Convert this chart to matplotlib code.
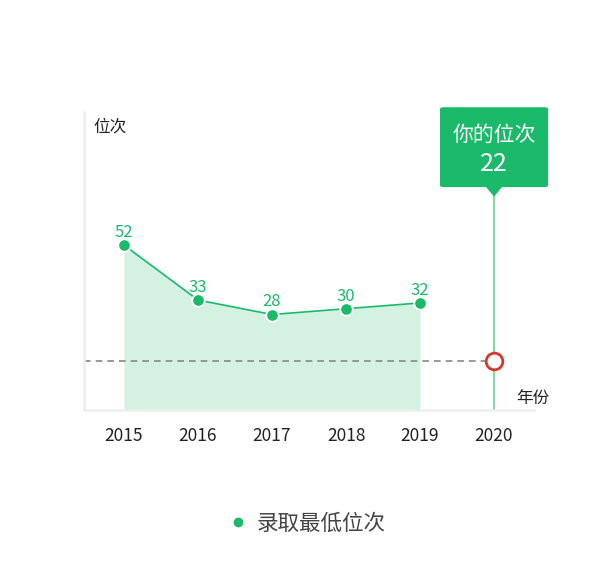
import matplotlib
matplotlib.use("Agg")
import matplotlib.pyplot as plt
import matplotlib.transforms as mtransforms
from matplotlib.patches import FancyBboxPatch, Polygon
from matplotlib.lines import Line2D
import numpy as np

plt.rcParams['font.family'] = ['Noto Sans CJK SC', 'DejaVu Sans']

# data
years = ['2015', '2016', '2017', '2018', '2019', '2020']
min_rank = [52, 33, 28, 30, 32]        # 录取最低位次, 2015-2019
your_rank = 22                          # shown in the tooltip
your_rank_level = 12                    # height of the red marker as drawn

GREEN = '#1aba6a'
FILL = '#d3f2e1'
VLINE = '#8ad8a8'
RED = '#d9372b'
AXIS = '#eeeeee'

fig = plt.figure(figsize=(6.15, 5.62), dpi=100)
ax = fig.add_axes([0.1366, 0.2705, 0.7317, 0.5302])

x = np.arange(len(years))
xs = x[:len(min_rank)]
ymin, ymax = -5, 98

ax.fill_between(xs, min_rank, ymin, color=FILL, lw=0, zorder=1)
ax.plot(xs, min_rank, color=GREEN, lw=1.2, zorder=3)
ax.plot(xs, min_rank, 'o', color=GREEN, ms=9, mec='white', mew=1.3, zorder=4)
for xi, v in zip(xs, min_rank):
    ax.annotate(str(v), (xi, v), xytext=(0, 3), textcoords='offset points',
                ha='center', va='bottom', color=GREEN, fontsize=12, zorder=5)

# your position
xl = x[-1]
ax.axvline(xl, ymin=0, ymax=0.718, color=VLINE, lw=1.6, zorder=2)
ax.hlines(your_rank_level, -0.54, xl, colors='#888888', linestyles=(0, (4, 3)),
          lw=1.2, zorder=2)
ax.plot([xl], [your_rank_level], 'o', ms=12, mfc='white', mec=RED, mew=2,
        zorder=6, clip_on=False)

# tooltip
trans = mtransforms.blended_transform_factory(ax.transData, ax.transAxes)
bw = 0.73
box = FancyBboxPatch((xl - bw, 0.748), 2 * bw, 0.268,
                     boxstyle='round,pad=0,rounding_size=0.05',
                     mutation_aspect=0.12,
                     transform=trans, facecolor=GREEN, edgecolor='none',
                     clip_on=False, zorder=7)
ax.add_patch(box)
tri = Polygon([(xl - 0.11, 0.749), (xl + 0.11, 0.749), (xl, 0.716)],
              closed=True, transform=trans, facecolor=GREEN, edgecolor='none',
              clip_on=False, zorder=7)
ax.add_patch(tri)
ax.text(xl, 0.925, '你的位次', transform=trans, ha='center', va='center',
        color='white', fontsize=15, zorder=8)
ax.text(xl, 0.826, str(your_rank), transform=trans, ha='center', va='center',
        color='white', fontsize=18, zorder=8)

ax.set_xlim(-0.54, len(years) - 1 + 0.54)
ax.set_ylim(ymin, ymax)
ax.set_xticks(x)
ax.set_xticklabels(years, fontsize=12.5, color='#222222')
ax.tick_params(axis='x', length=0, pad=12)
ax.set_yticks([])

for s in ['top', 'right']:
    ax.spines[s].set_visible(False)
for s in ['left', 'bottom']:
    ax.spines[s].set_color(AXIS)
    ax.spines[s].set_linewidth(1.8)

ax.text(0.02, 0.95, '位次', transform=ax.transAxes, ha='left', va='center',
        fontsize=12, color='#222222')
ax.text(xl + 0.3, 0.04, '年份', transform=trans, ha='left',
        va='center', fontsize=12, color='#222222')

handle = Line2D([], [], marker='o', ls='none', color=GREEN, ms=6)
fig.legend([handle], ['录取最低位次'], loc='center', bbox_to_anchor=(0.5, 0.068),
           frameon=False, fontsize=15.5, handlelength=0.8, handletextpad=0.5,
           labelcolor='#444444')

fig.savefig('out.png', dpi=100)
